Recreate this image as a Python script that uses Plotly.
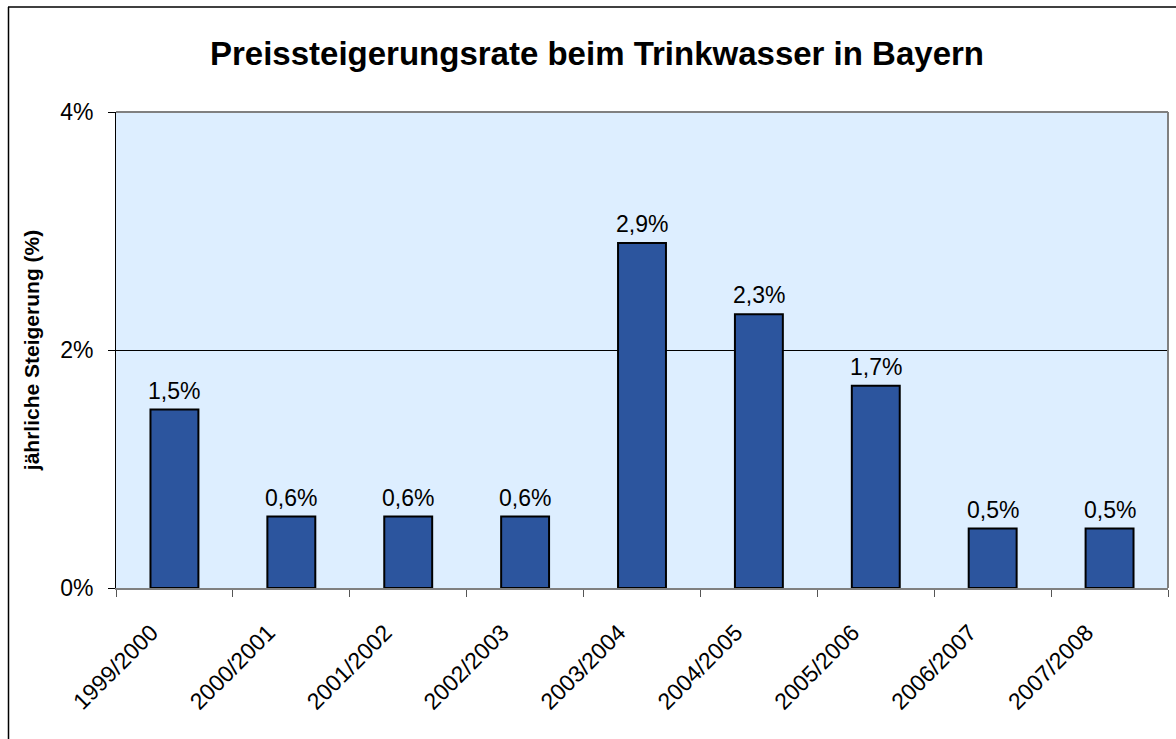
import plotly.graph_objects as go

categories = ["1999/2000", "2000/2001", "2001/2002", "2002/2003", "2003/2004",
              "2004/2005", "2005/2006", "2006/2007", "2007/2008"]
values = [1.5, 0.6, 0.6, 0.6, 2.9, 2.3, 1.7, 0.5, 0.5]
y_ticks = [0, 2, 4]
y_ticktext = ["0%", "2%", "4%"]

FONT = "Liberation Sans, Arial, sans-serif"

fig = go.Figure(go.Bar(
    x=categories, y=values,
    marker=dict(color="#2C559E", line=dict(color="black", width=2)),
))

W, H = 1176, 739
L, R, T, B = 116, 8, 112, 151
pw = W - L - R
ph = H - T - B

annotations = [
    dict(x=c, y=v, xref="x", yref="y", text=f"{v:.1f}%".replace(".", ","),
         showarrow=False, yanchor="bottom", yshift=4,
         font=dict(family=FONT, size=23, color="black"))
    for c, v in zip(categories, values)
]

fig.update_layout(
    width=W, height=H,
    margin=dict(l=L, r=R, t=T, b=B),
    paper_bgcolor="white", plot_bgcolor="#DDEEFF",
    separators=",.",
    bargap=0.59,
    showlegend=False,
    title=dict(text="<b>Preissteigerungsrate beim Trinkwasser in Bayern</b>",
               x=597 / W, xanchor="center", y=1 - 53 / H, yanchor="middle",
               font=dict(family=FONT, size=33, color="black")),
    font=dict(family=FONT, color="black"),
    annotations=annotations,
    xaxis=dict(
        type="category", tickson="boundaries", ticks="outside", ticklen=7,
        tickcolor="#555555", tickwidth=1, tickangle=-45,
        ticklabelstandoff=20, ticklabelshift=-23,
        tickfont=dict(family=FONT, size=23, color="black"),
        showline=True, linecolor="#808080", linewidth=2,
        showgrid=False,
    ),
    yaxis=dict(
        range=[0, 4], tickvals=y_ticks, ticktext=y_ticktext,
        ticks="outside", ticklen=7, tickcolor="black", tickwidth=1,
        ticklabelstandoff=10,
        tickfont=dict(family=FONT, size=23, color="black"),
        showline=True, linecolor="black", linewidth=1,
        showgrid=True, gridcolor="black", gridwidth=1,
        zeroline=False,
        title=dict(text="<b>jährliche Steigerung (%)</b>", standoff=14,
                   font=dict(family=FONT, size=21, color="black")),
    ),
    shapes=[
        dict(type="line", xref="paper", yref="paper", x0=0, x1=1, y0=1, y1=1,
             line=dict(color="#808080", width=2), layer="above"),
        dict(type="line", xref="paper", yref="paper", x0=1, x1=1, y0=0, y1=1,
             line=dict(color="#808080", width=2), layer="above"),
        dict(type="line", xref="paper", yref="paper",
             x0=(8 - L) / pw, x1=(W + 10 - L) / pw,
             y0=(H - B - 7) / ph, y1=(H - B - 7) / ph,
             line=dict(color="#404040", width=2)),
        dict(type="line", xref="paper", yref="paper",
             x0=(8.5 - L) / pw, x1=(8.5 - L) / pw,
             y0=(H - B - 7) / ph, y1=-(B + 10) / ph,
             line=dict(color="black", width=1.5)),
    ],
)

fig.write_html("out.html", config={"displayModeBar": False},
               post_script="document.body.style.margin='0';document.body.style.overflow='hidden';")
